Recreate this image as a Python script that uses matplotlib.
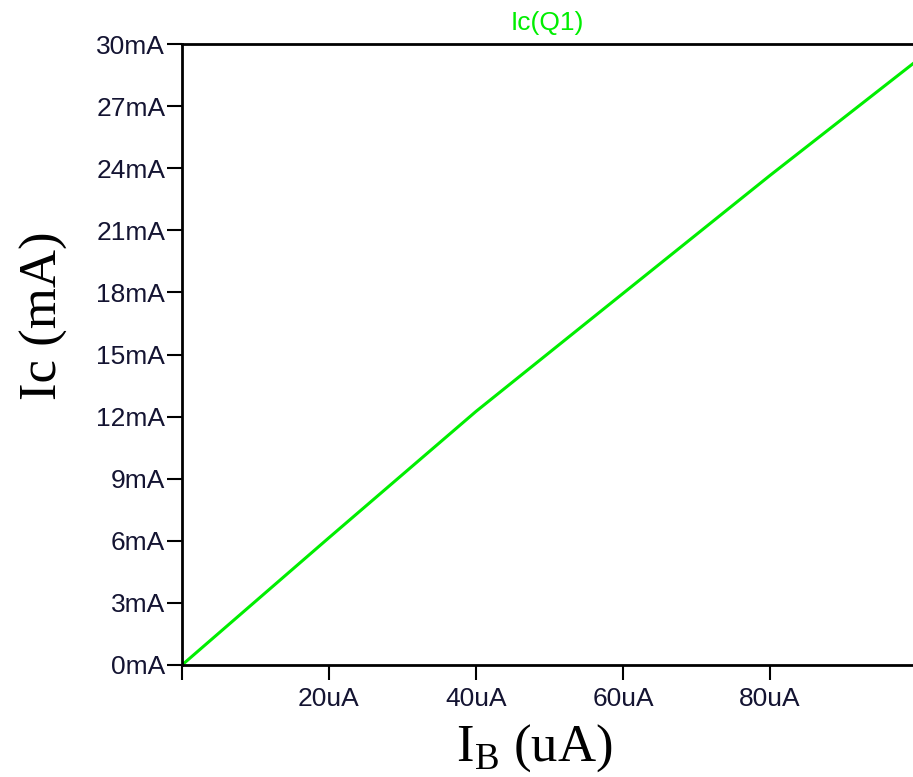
import matplotlib
matplotlib.use("Agg")
import matplotlib.pyplot as plt

ib_uA = [0, 20, 40, 60, 80, 100]
ic_mA = [0, 6.15, 12.25, 17.95, 23.65, 29.2]
ytick_vals = [0, 3, 6, 9, 12, 15, 18, 21, 24, 27, 30]
ytick_labels = [f"{v}mA" for v in ytick_vals]
xtick_vals = [0, 20, 40, 60, 80]
xtick_labels = ["", "20uA", "40uA", "60uA", "80uA"]

plt.rcParams['mathtext.fontset'] = 'custom'
plt.rcParams['mathtext.rm'] = 'Liberation Serif'

fig = plt.figure(figsize=(9.13, 7.77), dpi=100)
ax = fig.add_axes([182/913, 1-665/777, 1-182/913, (665-44)/777])

ax.plot(ib_uA, ic_mA, color='#00ee00', lw=2.2)
ax.set_xlim(0, 99.46)
ax.set_ylim(0, 30)

tick_color = '#141432'
ax.set_yticks(ytick_vals)
ax.set_yticklabels(ytick_labels, family='Liberation Sans', fontsize=19, color=tick_color)
ax.set_xticks(xtick_vals)
ax.set_xticklabels(xtick_labels, family='Liberation Sans', fontsize=19, color=tick_color)
ax.tick_params(axis='y', direction='out', length=11, width=1.5, pad=1)
ax.tick_params(axis='x', direction='out', length=11, width=1.5, pad=5)

for s in ['left', 'bottom', 'top']:
    ax.spines[s].set_linewidth(2)
    ax.spines[s].set_color('black')
ax.spines['right'].set_visible(False)

ax.set_title("Ic(Q1)", family='Liberation Sans', fontsize=19, color='#00ee00', pad=10)
ax.set_ylabel("Ic (mA)", family='Liberation Serif', fontsize=38, labelpad=20)
ax.yaxis.label.set_y(0.562)
ax.set_xlabel(r"I$_\mathrm{B}$ (uA)", family='Liberation Serif', fontsize=38, labelpad=8)
ax.xaxis.label.set_x(0.4815)

fig.savefig("out.png", dpi=100)
